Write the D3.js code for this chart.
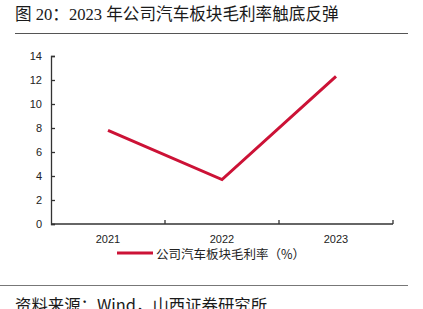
<!DOCTYPE html>
<html>
<head>
<meta charset="utf-8">
<script src="https://cdn.jsdelivr.net/npm/d3@7"></script>
<style>
  body { margin: 0; background: #fff; }
  svg { display: block; }
</style>
</head>
<body>
<div id="chart"></div>
<script>
const years = ["2021", "2022", "2023"];
const margins = [7.8, 3.7, 12.3];
const yTicks = [0, 2, 4, 6, 8, 10, 12, 14];
const titleText = "图 20：2023 年公司汽车板块毛利率触底反弹";
const legendText = "公司汽车板块毛利率（%）";
const sourceText = "资料来源：Wind，山西证券研究所";

let width = 423, height = 309;
const padLeft = 51, padRight = 393, padTop = 56, padBottom = 224;
const red = "#CC1236";

const svg = d3.select("#chart").append("svg")
    .attr("width", width)
    .attr("height", height);

// title + rules
svg.append("text")
    .attr("x", 15).attr("y", 20)
    .attr("font-family", "'Liberation Serif', 'Noto Sans CJK SC', serif")
    .attr("font-size", "16.6px")
    .attr("fill", "#1a1a1a")
    .text(titleText);

svg.append("line")
    .attr("x1", 15).attr("x2", 408)
    .attr("y1", 33.5).attr("y2", 33.5)
    .attr("stroke", "#555").attr("stroke-width", 1);

svg.append("line")
    .attr("x1", 0).attr("x2", 408)
    .attr("y1", 285.5).attr("y2", 285.5)
    .attr("stroke", "#777").attr("stroke-width", 1);

svg.append("text")
    .attr("x", 15).attr("y", 311)
    .attr("font-family", "'Noto Sans CJK SC', sans-serif")
    .attr("font-size", "16.4px")
    .attr("fill", "#1a1a1a")
    .text(sourceText);

const x = d3.scaleBand().domain(years).range([padLeft, padRight]);
const y = d3.scaleLinear().domain([0, 14]).range([padBottom, padTop]);

// y axis
const yAxis = svg.append("g")
    .attr("transform", "translate(" + padLeft + ",0)")
    .call(d3.axisRight(y).tickValues(yTicks).tickSize(4).tickFormat(d3.format("d")));
yAxis.select(".domain").attr("stroke", "#333").attr("stroke-width", 1.3);
yAxis.selectAll(".tick line").attr("stroke", "#333").attr("stroke-width", 1.3);
yAxis.selectAll(".tick text")
    .attr("x", -9).attr("text-anchor", "end")
    .attr("font-family", "Arial, 'Liberation Sans', sans-serif")
    .attr("font-size", "11px").attr("fill", "#222");

// x axis: ticks at category boundaries, pointing up
const xAxis = svg.append("g")
    .attr("transform", "translate(0," + padBottom + ")");
xAxis.append("line")
    .attr("x1", padLeft).attr("x2", padRight)
    .attr("stroke", "#333").attr("stroke-width", 1.3);
xAxis.selectAll(".bound")
    .data(years)
    .enter()
    .append("line")
    .attr("class", "bound")
    .attr("x1", d => x(d) + x.bandwidth())
    .attr("x2", d => x(d) + x.bandwidth())
    .attr("y1", 0).attr("y2", -4)
    .attr("stroke", "#333").attr("stroke-width", 1.3);
xAxis.selectAll(".lab")
    .data(years)
    .enter()
    .append("text")
    .attr("class", "lab")
    .attr("x", d => x(d) + x.bandwidth() / 2)
    .attr("y", 19)
    .attr("text-anchor", "middle")
    .attr("font-family", "Arial, 'Liberation Sans', sans-serif")
    .attr("font-size", "11px").attr("fill", "#222")
    .text(d => d);

// line
const pts = years.map((yr, i) => ({year: yr, v: margins[i]}));
svg.append("path")
    .datum(pts)
    .attr("fill", "none")
    .attr("stroke", red)
    .attr("stroke-width", 3)
    .attr("d", d3.line().x(d => x(d.year) + x.bandwidth() / 2).y(d => y(d.v)));

// legend
svg.append("line")
    .attr("x1", 117).attr("x2", 153)
    .attr("y1", 253).attr("y2", 253)
    .attr("stroke", red).attr("stroke-width", 3);
svg.append("text")
    .attr("x", 156).attr("y", 258.5)
    .attr("font-family", "'Noto Sans CJK SC', sans-serif")
    .attr("font-size", "12.5px").attr("fill", "#222")
    .text(legendText);
</script>
</body>
</html>
